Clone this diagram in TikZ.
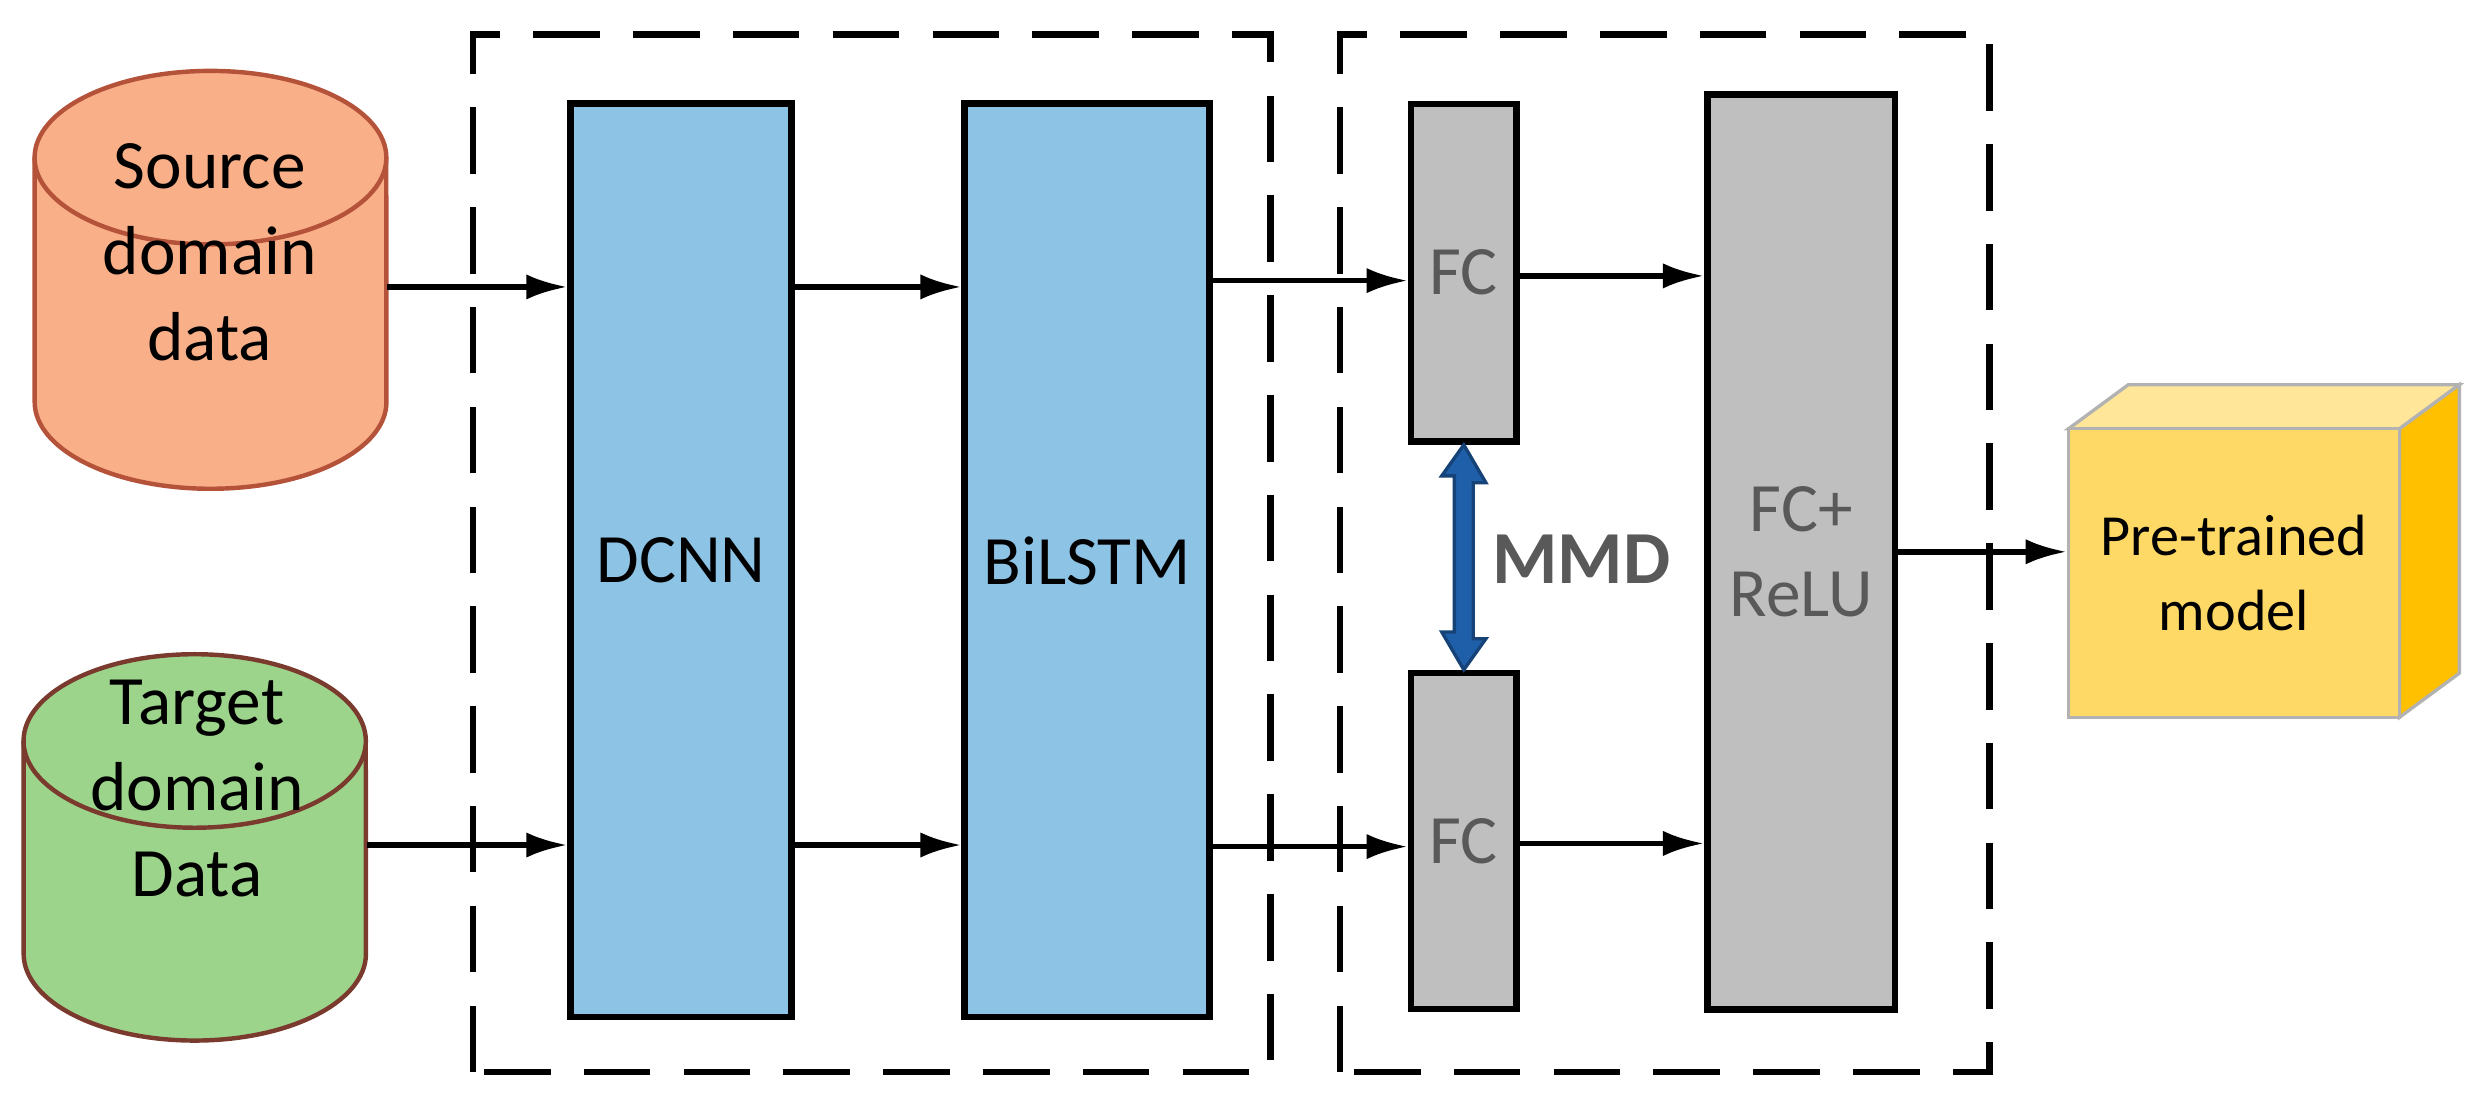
\documentclass[tikz,border=0pt]{standalone}
\usepackage{fontspec}
\setmainfont{Carlito}
\usetikzlibrary{arrows.meta}
\definecolor{srcfill}{HTML}{F9B088}
\definecolor{srcline}{HTML}{B5533A}
\definecolor{tgtfill}{HTML}{9DD48B}
\definecolor{tgtline}{HTML}{7A3B2E}
\definecolor{blk}{HTML}{8DC3E5}
\definecolor{gry}{HTML}{BFBFBF}
\definecolor{txtg}{HTML}{595959}
\definecolor{mmd}{HTML}{1F5FAA}
\definecolor{cubetop}{HTML}{FFE699}
\definecolor{cubeside}{HTML}{FFC000}
\definecolor{cubefront}{HTML}{FFD966}
\begin{document}
\begin{tikzpicture}[x=0.01cm,y=0.01cm,
  box/.style={draw=black,line width=1.2pt,inner sep=0},
  dashbox/.style={draw=black,line width=1.2pt,dash pattern=on 12pt off 6pt},
  arr/.style={-{Latex[length=0.26cm,width=0.16cm]},line width=1pt},
  lab/.style={font=\fontsize{12.5}{15.5}\selectfont,align=center}]
\useasboundingbox (0,0) rectangle (1568,696);
% cylinders
\fill[srcfill] (22,596) -- (22,441) arc[start angle=180,end angle=360,x radius=1.115cm,y radius=0.55cm] -- (245,596) -- cycle;
\draw[srcline,line width=0.8pt] (22,596) -- (22,441) arc[start angle=180,end angle=360,x radius=1.115cm,y radius=0.55cm] -- (245,596);
\draw[srcline,line width=0.8pt,fill=srcfill] (133.5,596) ellipse[x radius=1.115cm,y radius=0.55cm];
\node[minimum width=2.23cm,minimum height=2.65cm,inner sep=0] (src) at (133.5,518.5) {};
\node[lab] (srct) at (133,536) {Source\\domain\\data};
\fill[tgtfill] (15,226) -- (15,91) arc[start angle=180,end angle=360,x radius=1.085cm,y radius=0.55cm] -- (232,226) -- cycle;
\draw[tgtline,line width=0.8pt] (15,226) -- (15,91) arc[start angle=180,end angle=360,x radius=1.085cm,y radius=0.55cm] -- (232,226);
\draw[tgtline,line width=0.8pt,fill=tgtfill] (123.5,226) ellipse[x radius=1.085cm,y radius=0.55cm];
\node[minimum width=2.17cm,minimum height=2.45cm,inner sep=0] (tgt) at (123.5,158.5) {};
\node[lab] (tgtt) at (125,196) {Target\\domain\\Data};
% dashed groups
\draw[dashbox] (300,16) rectangle (806,674);
\draw[dashbox] (850,16) rectangle (1262,674);
% blocks
\node[box,fill=blk,minimum width=1.4cm,minimum height=5.79cm,lab] (dcnn) at (432,340.5) {DCNN};
\node[box,fill=blk,minimum width=1.55cm,minimum height=5.79cm,lab] (bil) at (689.5,340.5) {BiLSTM};
\node[box,fill=gry,minimum width=0.67cm,minimum height=2.14cm,lab,text=txtg] (fc1) at (928.5,523) {FC};
\node[box,fill=gry,minimum width=0.67cm,minimum height=2.13cm,lab,text=txtg] (fc2) at (928.5,162.5) {FC};
\node[box,fill=gry,minimum width=1.19cm,minimum height=5.8cm,lab,text=txtg] (relu) at (1142.5,346) {FC+\\ReLU};
% cube
\draw[line width=0.6pt,draw=black!30,fill=cubetop] (1312,424) -- (1350,452) -- (1560,452) -- (1522,424) -- cycle;
\draw[line width=0.6pt,draw=black!30,fill=cubeside] (1522,424) -- (1560,452) -- (1560,269) -- (1522,241) -- cycle;
\node[draw=black!30,line width=0.6pt,fill=cubefront,minimum width=2.1cm,minimum height=1.83cm,inner sep=0,align=center,font=\fontsize{10.5}{13.5}\selectfont] (cube) at (1417,332.5) {Pre-trained\\model};
% arrows
\draw[arr] (src.east |- 0,514) -- (dcnn.west |- 0,514);
\draw[arr] (tgt.east |- 0,160) -- (dcnn.west |- 0,160);
\draw[arr] (dcnn.east |- 0,514) -- (bil.west |- 0,514);
\draw[arr] (dcnn.east |- 0,160) -- (bil.west |- 0,160);
\draw[arr] (bil.east |- 0,518) -- (fc1.west |- 0,518);
\draw[arr] (bil.east |- 0,159) -- (fc2.west |- 0,159);
\draw[arr] (fc1.east |- 0,521) -- (relu.west |- 0,521);
\draw[arr] (fc2.east |- 0,161) -- (relu.west |- 0,161);
\draw[arr] (relu.east |- 0,346) -- (cube.west |- 0,346);
% MMD arrow
\draw[mmd!70!black,fill=mmd,line width=0.6pt] (fc1.south) -- ++(14,-24) -- ++(-8,0) -- ++(0,-99) -- ++(8,0) -- (fc2.north) -- ++(-14,24) -- ++(8,0) -- ++(0,99) -- ++(-8,0) -- cycle;
\node[font=\fontsize{13.5}{16}\selectfont\bfseries,text=txtg] (mmdl) at (1003,341) {MMD};
\end{tikzpicture}
\end{document}
